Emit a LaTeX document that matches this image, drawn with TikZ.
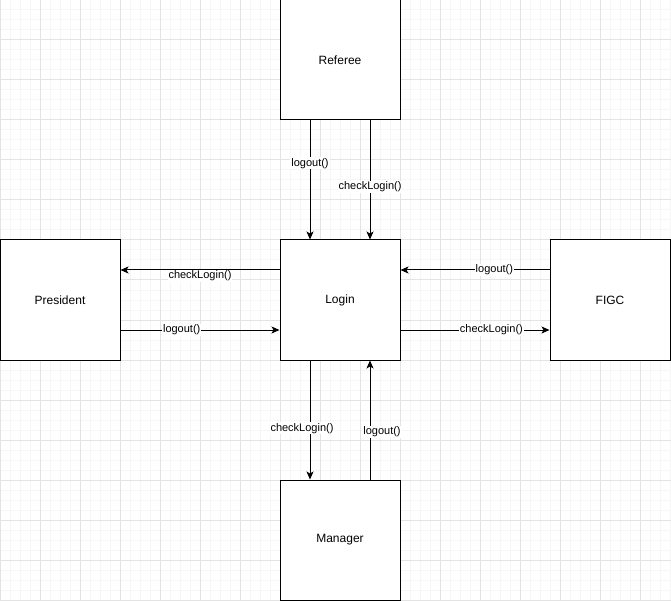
\documentclass[tikz,border=0pt]{standalone}
\usepackage{fontspec}
\setmainfont{Liberation Sans}
\usetikzlibrary{arrows.meta}

\begin{document}
\begin{tikzpicture}[x=1pt, y=-1pt,
    every node/.style={font=\fontsize{12}{14}\selectfont},
    actor/.style={draw, rectangle, fill=white, line width=1pt, minimum width=120pt, minimum height=120pt, inner sep=0pt},
    call/.style={fill=white, inner sep=1pt, font=\fontsize{11}{13}\selectfont},
    msg/.style={line width=1pt, -{Stealth[length=8pt, width=7pt, inset=2pt]}},
    minor/.style={draw=gray!7, line width=1pt},
    major/.style={draw=gray!22, line width=1pt}]
    \useasboundingbox (0,0) rectangle (671,601);
    \fill[white] (0,0) rectangle (671,601);

    % background grid
    \foreach \x in {0,10,...,670} \draw[minor] (\x,0) -- (\x,601);
    \foreach \y in {0,10,...,600} \draw[minor] (0,\y) -- (671,\y);
    \foreach \x in {0,40,...,670} \draw[major] (\x,0) -- (\x,601);
    \foreach \y in {0,40,...,600} \draw[major] (0,\y) -- (671,\y);

    \node[actor] (referee) at (340,60) {Referee};
    \node[actor] (president) at (60,300) {President};
    \node[actor] (login) at (340,300) {Login};
    \node[actor] (figc) at (610,300) {FIGC};
    \node[actor] (manager) at (340,540) {Manager};

    \draw[msg] ([xshift=-30pt]referee.south) -- node[call, pos=0.36] {logout()} ([xshift=-30pt]login.north);
    \draw[msg] ([xshift=30pt]referee.south) -- node[call, pos=0.56] {checkLogin()} ([xshift=30pt]login.north);
    \draw[msg] ([yshift=30pt]login.west) -- node[call, pos=0.5, yshift=-6pt] {checkLogin()} ([yshift=30pt]president.east);
    \draw[msg] ([yshift=-30pt]president.east) -- node[call, pos=0.385] {logout()} ([yshift=-30pt]login.west);
    \draw[msg] ([yshift=30pt]figc.west) -- node[call, pos=0.37] {logout()} ([yshift=30pt]login.east);
    \draw[msg] ([yshift=-30pt]login.east) -- node[call, pos=0.61] {checkLogin()} ([yshift=-30pt]figc.west);
    \draw[msg] ([xshift=-30pt]login.south) -- node[call, pos=0.57, xshift=-8pt] {checkLogin()} ([xshift=-30pt]manager.north);
    \draw[msg] ([xshift=30pt]manager.north) -- node[call, pos=0.4, xshift=12pt] {logout()} ([xshift=30pt]login.south);
\end{tikzpicture}
\end{document}
